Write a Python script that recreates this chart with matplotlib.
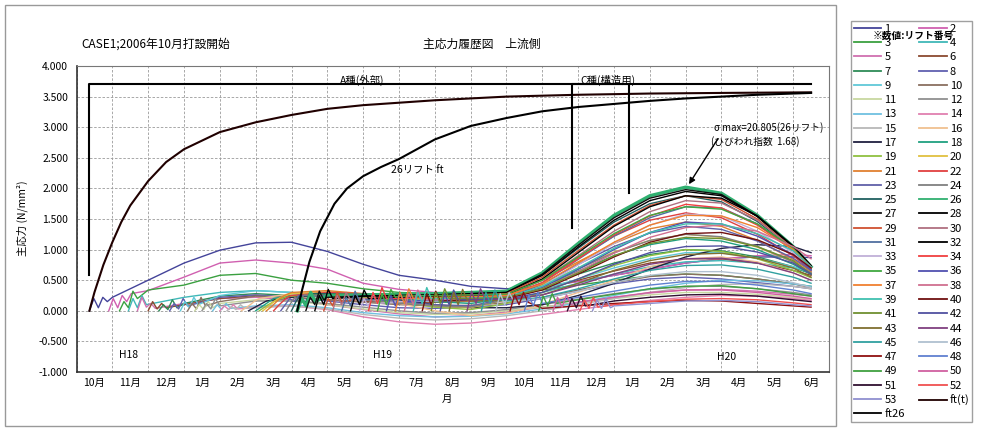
import matplotlib
matplotlib.use("Agg")
import matplotlib.pyplot as plt
from matplotlib.patches import Rectangle

plt.rcParams["font.family"] = ["Noto Sans CJK JP", "DejaVu Sans"]

# x axis is in months counted from 1 Oct 2006
MONTH_LABELS = ["10月", "11月", "12月", "1月", "2月", "3月", "4月", "5月", "6月", "7月",
                "8月", "9月", "10月", "11月", "12月", "1月", "2月", "3月", "4月", "5月", "6月"]
MONTH_GRID = list(range(1, 21)) + [20.5]   # monthly samples, last one mid-June 2008
EARLY_STEP = 0.125                          # spacing of the early-age samples after placement

# allowable tensile strength curves
FT_T_MONTH = [0.36, 0.5, 0.75, 1.0, 1.25, 1.5, 2.0, 2.5, 3.0, 4.0, 5.0, 6.0, 7.0, 8.0,
              10.0, 12.0, 14.0, 16.0, 18.0, 20.5]
FT_T_VALUE = [0.0, 0.3, 0.75, 1.12, 1.45, 1.72, 2.12, 2.43, 2.64, 2.92, 3.08, 3.2, 3.3, 3.36,
              3.44, 3.5, 3.53, 3.55, 3.56, 3.57]
FT26_MONTH = [6.16, 6.3, 6.5, 6.8, 7.2, 7.55, 8.0, 8.5, 9.0, 10.0, 11.0, 12.0, 13.0, 14.0,
              15.0, 16.0, 17.0, 18.0, 19.0, 20.5]
FT26_VALUE = [0.0, 0.35, 0.8, 1.3, 1.75, 2.0, 2.2, 2.35, 2.48, 2.8, 3.02, 3.15, 3.26, 3.33,
              3.38, 3.43, 3.47, 3.5, 3.53, 3.56]

# concrete type brackets (A: outer, C: structural)
A_MONTH = [0.35, 0.35, 20.5]
A_VALUE = [0.58, 3.70, 3.70]
C_MONTH = [13.82, 13.82, 15.41, 15.41]
C_VALUE = [1.35, 3.70, 3.70, 1.92]

LIFT_COLORS = [
    "#44449a", "#d060b0", "#3aa040", "#40b8b8", "#d070b0", "#8b4a30", "#2e8b57", "#6060b0",
    "#60c8d8", "#8a7060", "#c8d8a0", "#909090", "#70c0e0", "#e080b0", "#b8b8b8", "#f0c090",
    "#202040", "#20a080", "#90c040", "#e0c040", "#e08030", "#e04040", "#6060a8", "#808080",
    "#206060", "#30b070", "#101010", "#000000", "#d05030", "#b07080", "#5070a0", "#000000",
    "#c0b0d8", "#f04040", "#40a840", "#5050b0", "#f08030", "#d07090", "#40c0b0", "#701010",
    "#709030", "#5050a0", "#807030", "#804080", "#30a0a0", "#b0c0d0", "#901010", "#6080d0",
    "#40a040", "#d060a0", "#301030", "#f05050", "#9090d0",
]
FT_T_COLOR = "#200000"
FT26_COLOR = "#000000"

# placement month of each lift
LIFT_START = [
    0.36, 0.9, 1.2, 1.45, 1.7, 2.0, 2.3, 2.6, 2.9, 3.1, 3.3, 3.5, 3.8, 4.0, 4.2, 4.6,
    4.8, 5.0, 5.1, 5.2, 5.3, 5.5, 5.7, 5.85, 6.0, 6.16, 6.4, 6.65, 6.9, 7.15, 7.4, 7.65,
    7.9, 8.15, 8.4, 8.65, 8.9, 9.15, 9.4, 9.65, 9.9, 10.15, 10.4, 10.9, 11.3, 11.7, 12.1,
    12.5, 12.9, 13.3, 13.7, 14.05, 14.4,
]

# early-age stress right after placement (N/mm2), every EARLY_STEP months
LIFT_EARLY = [
    [0.0, 0.2, 0.05, 0.22, 0.15],
    [0.0, 0.2, 0.05, 0.25, 0.15, 0.28],
    [0.0, 0.15, 0.05, 0.32, 0.2],
    [0.0, 0.2, 0.05, 0.25, 0.1],
    [0.0, 0.22, 0.06, 0.12, 0.04],
    [0.0, 0.15, 0.03, 0.12, 0.05],
    [0.0, 0.1, 0.02, 0.18, 0.05],
    [0.0, 0.12, 0.03, 0.2, 0.08],
    [0.0, 0.15, 0.05, 0.22, 0.1],
    [0.0, 0.12, 0.03, 0.22, 0.08],
    [0.0, 0.1, 0.02, 0.15, 0.05],
    [0.0, 0.12, 0.03, 0.2, 0.08],
    [0.0, 0.1, 0.02, 0.12, 0.04],
    [0.0, 0.08, 0.02, 0.1, 0.03],
    [0.0, 0.07, 0.02, 0.1, 0.04],
    [0.0, 0.05, 0.1, 0.16, 0.2],
    [0.0, 0.04, 0.08, 0.12, 0.16],
    [0.0, 0.05, 0.1, 0.15, 0.2],
    [0.0, 0.05, 0.1, 0.14, 0.18],
    [0.0, 0.06, 0.12, 0.18, 0.22],
    [0.0, 0.06, 0.13, 0.2, 0.25],
    [0.0, 0.08, 0.15, 0.22, 0.25],
    [0.0, 0.1, 0.2, 0.15, 0.25],
    [0.0, 0.12, 0.22, 0.15, 0.26],
    [0.0, 0.15, 0.25, 0.12, 0.28],
    [0.0, 0.2, 0.08, 0.3, 0.15],
    [0.0, 0.22, 0.1, 0.32, 0.18],
    [0.0, 0.25, 0.1, 0.35, 0.2],
    [0.0, 0.2, 0.08, 0.3, 0.15],
    [0.0, 0.25, 0.1, 0.3, 0.18],
    [0.0, 0.22, 0.08, 0.32, 0.15],
    [0.0, 0.25, 0.1, 0.34, 0.2],
    [0.0, 0.2, 0.06, 0.28, 0.12],
    [0.0, 0.3, 0.12, 0.38, 0.2],
    [0.0, 0.28, 0.1, 0.35, 0.22],
    [0.0, 0.25, 0.08, 0.3, 0.15],
    [0.0, 0.3, 0.12, 0.36, 0.2],
    [0.0, 0.28, 0.1, 0.34, 0.18],
    [0.0, 0.3, 0.12, 0.38, 0.2],
    [0.0, 0.28, 0.1, 0.32, 0.16],
    [0.0, 0.3, 0.12, 0.36, 0.2],
    [0.0, 0.28, 0.1, 0.34, 0.18],
    [0.0, 0.3, 0.1, 0.35, 0.18],
    [0.0, 0.32, 0.12, 0.36, 0.2],
    [0.0, 0.3, 0.12, 0.34, 0.18],
    [0.0, 0.28, 0.1, 0.3, 0.16],
    [0.0, 0.26, 0.1, 0.3, 0.14],
    [0.0, 0.25, 0.08, 0.3, 0.12],
    [0.0, 0.24, 0.08, 0.28, 0.12],
    [0.0, 0.22, 0.06, 0.26, 0.1],
    [0.0, 0.2, 0.05, 0.24, 0.08],
    [0.0, 0.18, 0.04, 0.22, 0.06],
    [0.0, 0.18, 0.04, 0.2, 0.05],
]

# monthly stress (N/mm2); each list ends at the last MONTH_GRID point (mid-June 2008)
LIFT_MONTHLY = [
    [0.22, 0.5, 0.78, 0.99, 1.11, 1.12, 0.97, 0.76, 0.58, 0.5, 0.4, 0.36, 0.4, 0.48, 0.58, 0.68, 0.78, 0.85, 0.88, 0.88, 0.87],
    [0.33, 0.55, 0.78, 0.83, 0.78, 0.68, 0.45, 0.35, 0.3, 0.28, 0.3, 0.38, 0.48, 0.58, 0.68, 0.78, 0.85, 0.9, 0.92, 0.9],
    [0.34, 0.42, 0.58, 0.61, 0.5, 0.45, 0.36, 0.3, 0.28, 0.27, 0.28, 0.34, 0.42, 0.5, 0.57, 0.6, 0.58, 0.52, 0.44, 0.4],
    [0.22, 0.3, 0.33, 0.3, 0.25, 0.2, 0.18, 0.15, 0.15, 0.18, 0.3, 0.45, 0.6, 0.72, 0.8, 0.82, 0.78, 0.7, 0.62],
    [0.12, 0.2, 0.22, 0.18, 0.1, 0.02, -0.05, -0.1, -0.08, -0.02, 0.06, 0.14, 0.22, 0.29, 0.34, 0.35, 0.32, 0.27, 0.24],
    [0.1, 0.2, 0.25, 0.22, 0.18, 0.15, 0.14, 0.14, 0.16, 0.22, 0.35, 0.5, 0.65, 0.78, 0.85, 0.85, 0.78, 0.66, 0.58],
    [0.12, 0.24, 0.28, 0.25, 0.22, 0.2, 0.2, 0.2, 0.22, 0.28, 0.42, 0.6, 0.78, 0.92, 1.0, 0.98, 0.88, 0.72, 0.6],
    [0.22, 0.26, 0.22, 0.16, 0.1, 0.05, 0.04, 0.06, 0.1, 0.2, 0.32, 0.44, 0.52, 0.55, 0.52, 0.46, 0.4, 0.36],
    [0.25, 0.33, 0.3, 0.25, 0.2, 0.17, 0.16, 0.17, 0.22, 0.35, 0.52, 0.7, 0.85, 0.95, 0.95, 0.86, 0.72, 0.62],
    [0.15, 0.24, 0.22, 0.18, 0.14, 0.1, 0.08, 0.09, 0.13, 0.22, 0.34, 0.46, 0.56, 0.6, 0.58, 0.52, 0.44, 0.38],
    [0.12, 0.18, 0.16, 0.1, 0.03, -0.03, -0.06, -0.05, 0.0, 0.06, 0.13, 0.2, 0.26, 0.3, 0.3, 0.27, 0.22, 0.19],
    [0.16, 0.16, 0.12, 0.06, 0.0, -0.04, -0.03, 0.02, 0.1, 0.19, 0.28, 0.35, 0.4, 0.4, 0.36, 0.3, 0.26],
    [0.08, 0.1, 0.05, -0.03, -0.08, -0.1, -0.09, -0.05, 0.03, 0.13, 0.25, 0.36, 0.45, 0.5, 0.49, 0.44, 0.4],
    [0.06, 0.08, 0.02, -0.1, -0.18, -0.22, -0.2, -0.14, -0.06, 0.02, 0.1, 0.17, 0.22, 0.25, 0.24, 0.2, 0.17],
    [0.05, 0.08, 0.03, -0.06, -0.12, -0.15, -0.13, -0.08, 0.0, 0.1, 0.2, 0.3, 0.38, 0.43, 0.44, 0.4, 0.36],
    [0.28, 0.32, 0.25, 0.12, 0.0, -0.08, -0.04, 0.1, 0.3, 0.5, 0.72, 0.85, 0.88, 0.8, 0.62, 0.5],
    [0.22, 0.28, 0.25, 0.18, 0.1, 0.05, 0.05, 0.1, 0.25, 0.45, 0.68, 0.88, 1.02, 1.08, 1.05, 0.95],
    [0.25, 0.3, 0.26, 0.2, 0.15, 0.12, 0.2, 0.4, 0.65, 0.9, 1.08, 1.18, 1.14, 1.0, 0.76, 0.6],
    [0.24, 0.28, 0.22, 0.14, 0.06, 0.02, 0.12, 0.3, 0.52, 0.74, 0.9, 1.0, 0.97, 0.85, 0.66, 0.54],
    [0.28, 0.3, 0.24, 0.15, 0.08, 0.05, 0.18, 0.42, 0.7, 0.96, 1.15, 1.25, 1.2, 1.04, 0.8, 0.62],
    [0.3, 0.33, 0.28, 0.22, 0.18, 0.16, 0.26, 0.5, 0.8, 1.1, 1.34, 1.45, 1.38, 1.15, 0.84, 0.64],
    [0.3, 0.28, 0.25, 0.22, 0.22, 0.28, 0.5, 0.86, 1.22, 1.48, 1.6, 1.52, 1.25, 0.9, 0.66],
    [0.25, 0.2, 0.15, 0.1, 0.08, 0.2, 0.44, 0.76, 1.05, 1.27, 1.38, 1.33, 1.14, 0.86, 0.66],
    [0.22, 0.18, 0.12, 0.08, 0.06, 0.18, 0.4, 0.68, 0.95, 1.15, 1.25, 1.21, 1.05, 0.8, 0.62],
    [0.28, 0.26, 0.24, 0.22, 0.24, 0.3, 0.58, 1.02, 1.45, 1.75, 1.88, 1.78, 1.46, 1.0, 0.7],
    [0.25, 0.26, 0.27, 0.28, 0.3, 0.32, 0.62, 1.1, 1.56, 1.88, 2.02, 1.92, 1.56, 1.05, 0.72],
    [0.22, 0.24, 0.25, 0.26, 0.28, 0.3, 0.6, 1.07, 1.52, 1.84, 1.98, 1.9, 1.55, 1.04, 0.72],
    [0.24, 0.25, 0.26, 0.28, 0.3, 0.58, 1.04, 1.48, 1.8, 1.95, 1.88, 1.54, 1.04, 0.73],
    [0.2, 0.22, 0.24, 0.26, 0.28, 0.55, 0.98, 1.4, 1.72, 1.88, 1.82, 1.5, 1.02, 0.7],
    [0.2, 0.22, 0.23, 0.24, 0.26, 0.5, 0.9, 1.3, 1.62, 1.8, 1.76, 1.48, 1.02, 0.72],
    [0.18, 0.2, 0.21, 0.22, 0.24, 0.46, 0.84, 1.22, 1.52, 1.7, 1.68, 1.42, 0.98, 0.68],
    [0.22, 0.23, 0.24, 0.26, 0.52, 0.95, 1.38, 1.7, 1.88, 1.84, 1.55, 1.06, 0.74],
    [0.15, 0.16, 0.18, 0.2, 0.4, 0.75, 1.1, 1.4, 1.58, 1.55, 1.3, 0.95, 0.7],
    [0.2, 0.21, 0.22, 0.24, 0.46, 0.85, 1.24, 1.55, 1.74, 1.68, 1.4, 1.0, 0.72],
    [0.24, 0.25, 0.26, 0.27, 0.5, 0.88, 1.26, 1.56, 1.7, 1.66, 1.42, 1.02, 0.7],
    [0.18, 0.19, 0.2, 0.38, 0.68, 1.0, 1.28, 1.45, 1.42, 1.22, 0.92, 0.68],
    [0.22, 0.23, 0.25, 0.44, 0.78, 1.12, 1.4, 1.56, 1.55, 1.36, 1.0, 0.7],
    [0.18, 0.19, 0.2, 0.36, 0.64, 0.94, 1.2, 1.36, 1.4, 1.3, 1.05, 0.85],
    [0.2, 0.21, 0.22, 0.4, 0.7, 1.02, 1.28, 1.42, 1.42, 1.26, 0.98, 0.72],
    [0.18, 0.2, 0.34, 0.6, 0.88, 1.12, 1.26, 1.28, 1.16, 0.92, 0.7],
    [0.2, 0.22, 0.36, 0.62, 0.9, 1.1, 1.2, 1.18, 1.05, 0.82, 0.6],
    [0.18, 0.19, 0.3, 0.52, 0.76, 0.95, 1.05, 1.06, 0.96, 0.78, 0.6],
    [0.16, 0.17, 0.26, 0.45, 0.66, 0.82, 0.92, 0.94, 0.86, 0.7, 0.55],
    [0.18, 0.26, 0.42, 0.6, 0.76, 0.85, 0.86, 0.78, 0.62, 0.5],
    [0.16, 0.22, 0.36, 0.52, 0.66, 0.74, 0.75, 0.68, 0.55, 0.45],
    [0.2, 0.32, 0.46, 0.58, 0.64, 0.64, 0.58, 0.46, 0.38],
    [0.04, 0.08, 0.12, 0.15, 0.17, 0.16, 0.12, 0.08, 0.06],
    [0.22, 0.32, 0.42, 0.48, 0.48, 0.42, 0.34, 0.28],
    [0.18, 0.27, 0.36, 0.4, 0.41, 0.36, 0.28, 0.24],
    [0.14, 0.22, 0.3, 0.34, 0.34, 0.3, 0.24, 0.2],
    [0.16, 0.22, 0.26, 0.27, 0.24, 0.18, 0.15],
    [0.1, 0.15, 0.19, 0.2, 0.18, 0.13, 0.1],
    [0.08, 0.12, 0.16, 0.17, 0.15, 0.1, 0.08],
]

W, H = 982, 429


def lift_points(start, early, monthly):
    times = [start + EARLY_STEP * k for k in range(len(early))]
    values = list(early)
    for month, value in zip(MONTH_GRID[-len(monthly):], monthly):
        if month > times[-1] + 0.05:
            times.append(month)
            values.append(value)
    return times, values


def fx(px):
    return px / W


def fy(py):
    return 1 - py / H


def main():
    fig = plt.figure(figsize=(W / 100, H / 100), dpi=100)
    ax = fig.add_axes([fx(76.5), fy(372), fx(829) - fx(76.5), fy(66) - fy(372)])

    handles = []
    for i in range(len(LIFT_START)):
        t, v = lift_points(LIFT_START[i], LIFT_EARLY[i], LIFT_MONTHLY[i])
        lw = 2.4 if i == 25 else 1.0
        (line,) = ax.plot(t, v, color=LIFT_COLORS[i], lw=lw, label=str(i + 1))
        handles.append(line)

    (ft_line,) = ax.plot(FT_T_MONTH, FT_T_VALUE, color=FT_T_COLOR, lw=1.5, label="ft(t)")
    (ft26_line,) = ax.plot(FT26_MONTH, FT26_VALUE, color=FT26_COLOR, lw=1.5, label="ft26")
    handles += [ft_line, ft26_line]

    ax.plot(A_MONTH, A_VALUE, color="black", lw=1.5)
    ax.plot(C_MONTH, C_VALUE, color="black", lw=1.5)

    ax.set_xlim(0, 21)
    ax.set_ylim(-1, 4)
    ax.set_yticks([-1 + 0.5 * k for k in range(11)])
    ax.yaxis.set_major_formatter(matplotlib.ticker.FormatStrFormatter("%.3f"))
    ax.set_xticks(range(22))
    ax.set_xticklabels([])
    ax.set_xticks([k + 0.5 for k in range(21)], minor=True)
    ax.set_xticklabels(MONTH_LABELS, minor=True)
    ax.tick_params(axis="x", which="both", length=0, labelsize=7.5, pad=4)
    ax.tick_params(axis="y", length=0, labelsize=7.5, pad=6)
    ax.grid(True, which="major", color="#9a9a9a", lw=0.6, ls=(0, (3, 2)))
    for side in ["left", "bottom"]:
        ax.spines[side].set_color("#333333")
        ax.spines[side].set_linewidth(1.2)
    for side in ["top", "right"]:
        ax.spines[side].set_color("#777777")
        ax.spines[side].set_linewidth(0.8)

    ax.text(7.96, 3.77, "A種(外部)", fontsize=7.5, ha="center", va="center")
    ax.text(14.82, 3.77, "C種(構造用)", fontsize=7.5, ha="center", va="center")
    ax.text(9.5, 2.3, "26リフト ft", fontsize=7.5, ha="center", va="center")
    ax.text(17.8, 3.0, "σ max=20.805(26リフト)", fontsize=7, ha="left", va="center")
    ax.text(17.7, 2.77, "(ひびわれ指数  1.68)", fontsize=7, ha="left", va="center")
    ax.annotate("", xy=(17.05, 2.03), xytext=(17.94, 2.85),
                arrowprops=dict(arrowstyle="-|>", color="black", lw=1.0, mutation_scale=9))
    ax.text(1.44, -0.72, "H18", fontsize=7.5, ha="center", va="center")
    ax.text(8.55, -0.72, "H19", fontsize=7.5, ha="center", va="center")
    ax.text(18.14, -0.75, "H20", fontsize=7.5, ha="center", va="center")

    fig.text(fx(81), fy(44), "CASE1;2006年10月打設開始", fontsize=8.5, ha="left", va="center")
    fig.text(fx(423), fy(44), "主応力履歴図\u3000上流側", fontsize=8.5, ha="left", va="center")
    fig.text(fx(22), fy(218), "主応力 (N/mm²)", fontsize=7.5, rotation=90, ha="center", va="center")
    fig.text(fx(447), fy(399), "月", fontsize=7.5, ha="center", va="center")

    # legend filled row by row: 1 2 / 3 4 / ...
    labels = [h.get_label() for h in handles]
    order = list(range(0, len(handles), 2)) + list(range(1, len(handles), 2))
    leg = fig.legend([handles[k] for k in order], [labels[k] for k in order],
                     loc="upper left", bbox_to_anchor=(fx(851), fy(21)), ncol=2,
                     fontsize=8, frameon=True, fancybox=False, edgecolor="#888888",
                     handlelength=2.45, handletextpad=0.3, columnspacing=1.3,
                     labelspacing=0.385, borderpad=0.25, borderaxespad=0)
    leg.get_frame().set_linewidth(1.0)
    for line in leg.get_lines():
        line.set_linewidth(1.3)
    fig.text(fx(913), fy(36), "※数値:リフト番号", fontsize=7, fontweight="bold",
             ha="center", va="center", zorder=10)

    fig.patches.append(Rectangle((fx(5), fy(426)), fx(836) - fx(5), fy(5) - fy(426),
                                 transform=fig.transFigure, fill=False, ec="#999999", lw=1.0))

    fig.savefig("out.png", dpi=100)


if __name__ == "__main__":
    main()
